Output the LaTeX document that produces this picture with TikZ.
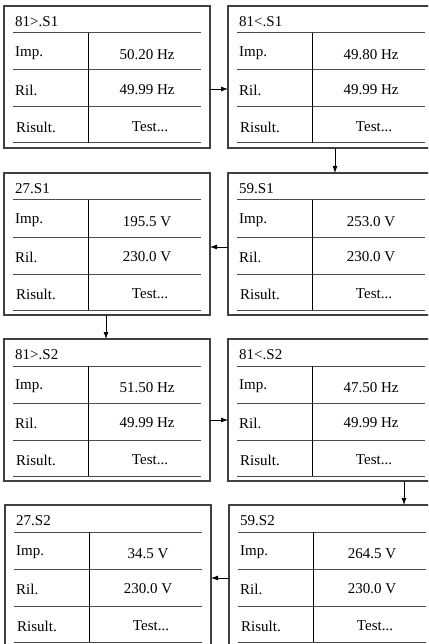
\documentclass[tikz,border=0pt]{standalone}
\usepackage{fontspec}
\setmainfont{Liberation Serif}
\usetikzlibrary{arrows.meta}

% one relay screen: name, x, y, title, imp value, ril value
\newcommand{\relayscreen}[6]{%
  \begin{scope}[shift={(#2,#3)}]
    \node[scrbox] (#1) at (0,0) {};
    \node[scrlabel] (#1-t) at (11,16) {#4};
    \draw[rowline] (9,27) -- (197,27);
    \draw[rowline] (9,64) -- (197,64);
    \draw[rowline] (9,101) -- (197,101);
    \draw[rowline] (9,137) -- (197,137);
    \draw[colline] (84,27) -- (84,137);
    \node[scrlabel] (#1-il) at (11,47) {Imp.};
    \node[scrvalue] (#1-iv) at (143,49) {#5};
    \node[scrlabel] (#1-rl) at (11,84) {Ril.};
    \node[scrvalue] (#1-rv) at (143,84) {#6};
    \node[scrlabel] (#1-sl) at (12,121) {Risult.};
    \node[scrvalue] (#1-sv) at (146,121) {Test...};
  \end{scope}}

\begin{document}
\begin{tikzpicture}[x=1pt,y=-1pt,
    font=\fontsize{15}{18}\selectfont,
    scrbox/.style={draw=black!75,line width=1.2pt,anchor=north west,
      minimum width=206pt,minimum height=142pt,inner sep=0pt,outer sep=0pt},
    rowline/.style={draw=black!70,line width=1pt},
    colline/.style={draw=black,line width=0.7pt},
    scrlabel/.style={anchor=west,inner sep=0pt},
    scrvalue/.style={inner sep=0pt},
    flow/.style={-{Latex[length=7pt,width=5pt]},line width=0.8pt}]
  \useasboundingbox (0,0) rectangle (428,644);
  \clip (0,0) rectangle (428,644);

  % first stage
  \relayscreen{s1}{4}{6}{81>.S1}{50.20 Hz}{49.99 Hz}
  \relayscreen{s2}{228}{6}{81<.S1}{49.80 Hz}{49.99 Hz}
  \relayscreen{s3}{4}{173}{27.S1}{195.5 V}{230.0 V}
  \relayscreen{s4}{228}{173}{59.S1}{253.0 V}{230.0 V}
  % second stage
  \relayscreen{s5}{4}{339}{81>.S2}{51.50 Hz}{49.99 Hz}
  \relayscreen{s6}{228}{339}{81<.S2}{47.50 Hz}{49.99 Hz}
  \relayscreen{s7}{5}{505}{27.S2}{34.5 V}{230.0 V}
  \relayscreen{s8}{229}{505}{59.S2}{264.5 V}{230.0 V}

  \draw[flow] ([yshift=-83pt]s1.north east) -- ([yshift=-83pt]s2.north west);
  \draw[flow] ([xshift=107pt]s2.south west) -- ([xshift=107pt]s2.south west |- s4.north);
  \draw[flow] ([yshift=-74pt]s4.north west) -- ([yshift=-74pt]s3.north east);
  \draw[flow] ([xshift=102pt]s3.south west) -- ([xshift=102pt]s3.south west |- s5.north);
  \draw[flow] ([yshift=-81pt]s5.north east) -- ([yshift=-81pt]s6.north west);
  \draw[flow] ([xshift=176pt]s6.south west) -- ([xshift=176pt]s6.south west |- s8.north);
  \draw[flow] ([yshift=-73pt]s8.north west) -- ([yshift=-73pt]s7.north east);
\end{tikzpicture}
\end{document}
